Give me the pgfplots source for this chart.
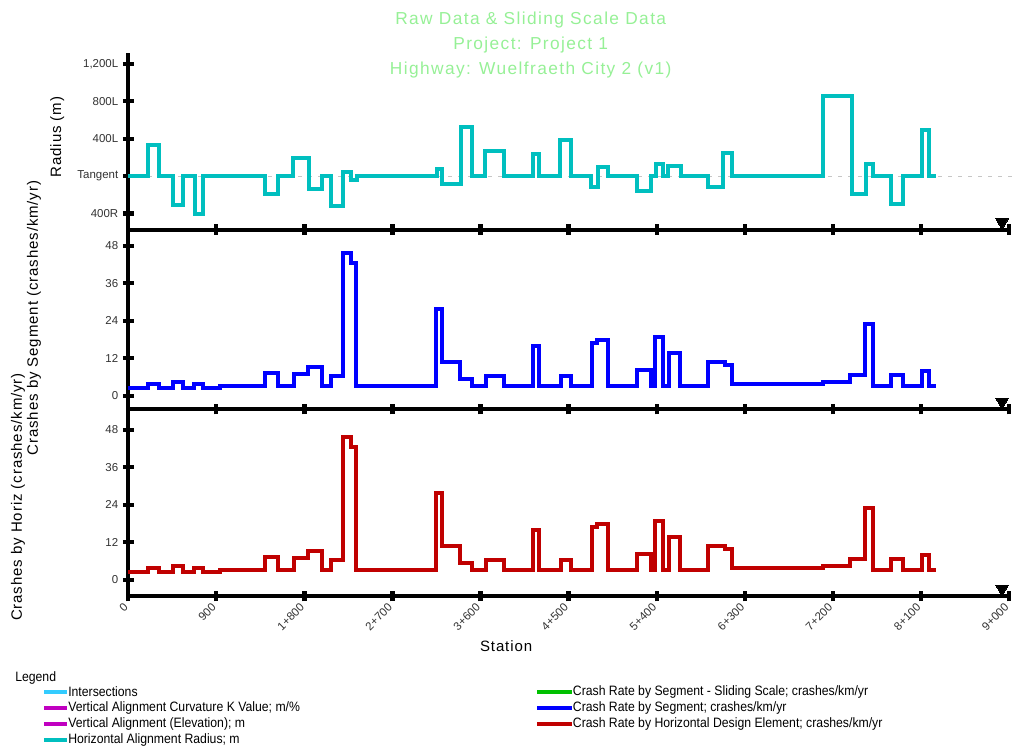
\documentclass[border=0pt]{standalone}
\usepackage{fontspec}
\setmainfont{Liberation Sans}
\newfontfamily\lsfont[LetterSpace=6]{Liberation Sans}
\newfontfamily\ttlfont[LetterSpace=8]{Liberation Sans}
\newfontfamily\narrowfont[FakeStretch=0.9]{Liberation Sans}
\usepackage{pgfplots}
\usepackage{pgfplotstable}
\pgfplotsset{compat=1.18}
\definecolor{cy}{RGB}{0,191,191}
\definecolor{bl}{RGB}{0,0,255}
\definecolor{rd}{RGB}{192,0,0}
\definecolor{ttl}{RGB}{150,240,150}
\definecolor{ltb}{RGB}{51,204,255}
\definecolor{pur}{RGB}{192,0,192}
\definecolor{grn}{RGB}{0,192,0}
\definecolor{tk}{RGB}{50,50,50}

\pgfplotstableread{
x y
0 0
204 335
317 0
460 -313
556 0
682 -401
767 0
1397 -188
1533 0
1686 192
1850 -142
1977 0
2069 -320
2191 40
2273 -40
2340 0
3152 79
3203 -81
3397 523
3510 0
3645 267
3840 0
4139 240
4200 0
4412 388
4521 0
4726 -117
4803 96
4906 0
5196 -163
5339 0
5393 125
5468 0
5519 110
5649 0
5921 -117
6075 245
6167 0
7103 853
7393 -188
7539 125
7608 0
7792 -295
7914 0
8108 495
8186 0
8255 0
}\radiusdata

\pgfplotstableread{
x y
0 2.4
204 3.7
317 2.4
460 4.3
556 2.4
671 3.7
767 2.4
937 3.2
1397 7.4
1533 3.2
1693 6.8
1840 9.3
1983 3.2
2069 6.3
2191 45.8
2273 42.4
2327 3.2
3145 27.6
3203 10.9
3390 5.2
3510 3.2
3653 6.3
3840 3.2
4139 16.0
4200 3.2
4419 6.3
4521 3.2
4736 17.0
4787 17.8
4906 3.2
5196 8.2
5339 3.2
5383 18.9
5468 3.2
5529 13.6
5638 3.2
5928 10.9
6098 9.8
6167 3.7
7103 4.3
7376 6.6
7529 22.8
7614 3.2
7795 6.6
7914 3.2
8108 8.0
8186 3.2
8255 3.2
}\segdata

\pgfplotstableread{
x y
0 2.4
204 3.7
317 2.4
460 4.3
556 2.4
671 3.7
767 2.4
937 3.2
1397 7.4
1533 3.2
1693 6.8
1840 9.3
1983 3.2
2069 6.3
2191 45.8
2273 42.4
2327 3.2
3145 27.6
3203 10.9
3390 5.2
3510 3.2
3653 6.3
3840 3.2
4139 16.0
4200 3.2
4419 6.3
4521 3.2
4736 17.0
4787 17.8
4906 3.2
5196 8.2
5339 3.2
5383 18.9
5468 3.2
5529 13.6
5638 3.2
5928 10.9
6098 9.8
6167 3.7
7103 4.3
7376 6.6
7529 22.8
7614 3.2
7795 6.6
7914 3.2
8108 8.0
8186 3.2
8255 3.2
}\horizdata

\pgfplotsset{
  panel/.style={
    scale only axis, width=660.5pt, xmin=0, xmax=9000,
    axis x line=bottom, axis y line=left,
    axis line style={line width=3pt, -},
    xtick={0,900,...,9000},
    major tick length=8pt,
    tick style={line width=3.2pt, black},
    tick align=center,
    clip=false,
    /pgf/number format/assume math mode=true,
    ticklabel style={font=\fontsize{8.6pt}{10pt}\selectfont, text=tk},
    ylabel style={font=\lsfont\fontsize{11.25pt}{13pt}\selectfont, anchor=center},
  },
  endmark/.style={only marks, mark=triangle*, mark size=5.4pt,
    mark options={yshift=5.4pt, rotate=180, fill=black, draw=black, line width=0pt}},
}

\begin{document}
\begin{tikzpicture}
\useasboundingbox (0,0) rectangle (759pt,561.75pt);

% top panel: radius
\begin{axis}[panel, at={(96.2pt,389.6pt)}, anchor=south west, height=132.4pt,
  ymin=-572, ymax=1316,
  ytick={-400,0,400,800,1200}, yticklabels={400R,Tangent,400L,800L,{1,200L}},
  xticklabels={},
  ylabel={Radius (m)},
  ylabel style={at={(axis description cs:-0.0806,0.524)}},
  title={Raw Data \& Sliding Scale Data\\Project: Project 1\\Highway: Wuelfraeth City 2 (v1)},
  title style={at={(axis description cs:0.457,1.0)}, anchor=center, align=center, text=ttl,
    font=\ttlfont\fontsize{13pt}{18.75pt}\selectfont},
]
\addplot[gray!45, line width=0.8pt, dash pattern=on 3pt off 4.5pt] coordinates {(0,0) (9040,0)};
\addplot[cy, line width=3pt, const plot, line join=miter] table {\radiusdata};
\addplot[endmark] coordinates {(8930,-572)};
\end{axis}

% middle panel: crash rate by segment
\begin{axis}[panel, at={(96.2pt,255pt)}, anchor=south west, height=134.6pt,
  ymin=-4.26, ymax=53.18, ytick={0,12,24,36,48},
  xticklabels={},
  ylabel={Crashes by Segment (crashes/km/yr)},
  ylabel style={at={(axis description cs:-0.1071,0.507)}},
]
\addplot[bl, line width=3pt, const plot, line join=miter] table {\segdata};
\addplot[endmark] coordinates {(8930,-4.26)};
\end{axis}

% bottom panel: crash rate by horizontal design element
\begin{axis}[panel, at={(96.2pt,114.75pt)}, anchor=south west, height=140.25pt,
  ymin=-5.22, ymax=54.62, ytick={0,12,24,36,48},
  xticklabels={0,900,1+800,2+700,3+600,4+500,5+400,6+300,7+200,8+100,9+000},
  xticklabel style={rotate=45, anchor=east, yshift=-1pt},
  xlabel={Station},
  xlabel style={at={(axis description cs:0.429,0)}, anchor=center, yshift=-37.5pt,
    font=\lsfont\fontsize{11.25pt}{13pt}\selectfont},
  ylabel={Crashes by Horiz (crashes/km/yr)},
  ylabel style={at={(axis description cs:-0.1252,0.529)}},
]
\addplot[rd, line width=3pt, const plot, line join=miter] table {\horizdata};
\addplot[endmark] coordinates {(8930,-5.22)};
\end{axis}

% legend
\begin{scope}[every node/.style={anchor=west, inner sep=0pt, font=\narrowfont\fontsize{10.2pt}{11pt}\selectfont}]
\node at (11.25pt,53.25pt) {Legend};
\draw[ltb, line width=3pt] (33pt,42.75pt) -- (50.5pt,42.75pt);
\node at (51pt,42.75pt) {Intersections};
\draw[pur, line width=3pt] (33pt,30.75pt) -- (50.5pt,30.75pt);
\node at (51pt,30.75pt) {Vertical Alignment Curvature K Value; m/\%};
\draw[pur, line width=3pt] (33pt,18.75pt) -- (50.5pt,18.75pt);
\node at (51pt,18.75pt) {Vertical Alignment (Elevation); m};
\draw[cy, line width=3pt] (33pt,6.5pt) -- (50.5pt,6.5pt);
\node at (51pt,6.5pt) {Horizontal Alignment Radius; m};
\draw[grn, line width=3pt] (403pt,42.75pt) -- (429pt,42.75pt);
\node at (429.5pt,42.75pt) {Crash Rate by Segment - Sliding Scale; crashes/km/yr};
\draw[bl, line width=3pt] (403pt,30.75pt) -- (429pt,30.75pt);
\node at (429.5pt,30.75pt) {Crash Rate by Segment; crashes/km/yr};
\draw[rd, line width=3pt] (403pt,18.75pt) -- (429pt,18.75pt);
\node at (429.5pt,18.75pt) {Crash Rate by Horizontal Design Element; crashes/km/yr};
\end{scope}
\end{tikzpicture}
\end{document}
